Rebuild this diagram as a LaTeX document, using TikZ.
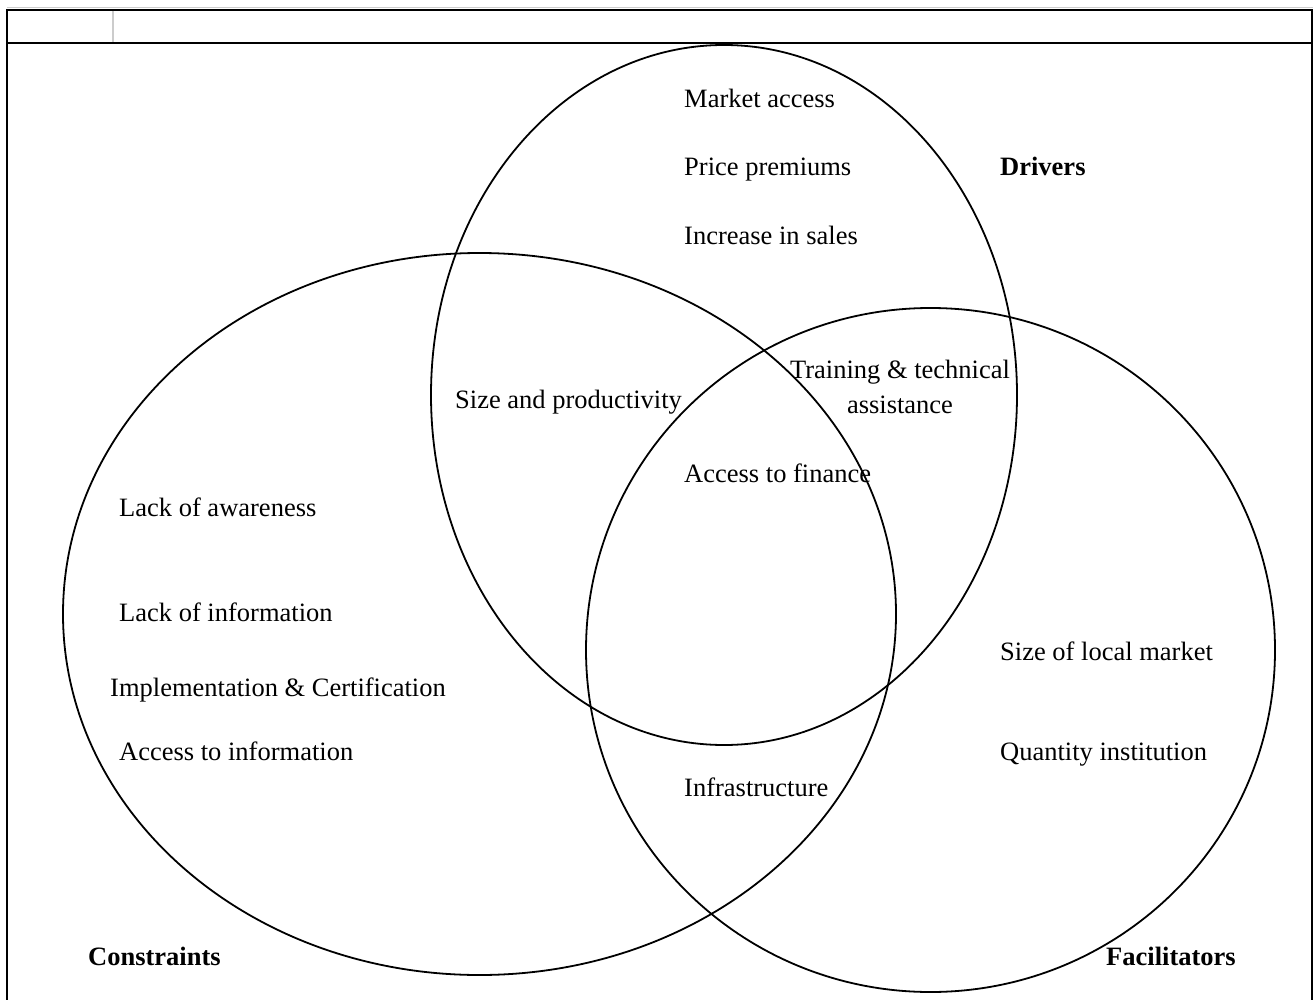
\documentclass[tikz,border=0pt]{standalone}
\usepackage{fontspec}
\setmainfont{Liberation Serif}
\usetikzlibrary{shapes.geometric}
\begin{document}
\begin{tikzpicture}[x=1pt,y=-1pt,
  lbl/.style={anchor=west,inner sep=0pt,text height=0.68em,text depth=0pt,
    font=\fontsize{26.5}{31}\selectfont},
  ttl/.style={lbl,font=\fontsize{26.5}{31}\selectfont\bfseries},
  setring/.style={draw=black,line width=1.8pt,ellipse,inner sep=0pt,outer sep=0pt}]
\useasboundingbox (0,0) rectangle (1316,1000);
% frame of the table cell
\draw[gray!40,line width=1pt] (7,8) -- (1313,8);
\draw[line width=2pt] (7,1004) -- (7,10) -- (1312,10) -- (1312,1004);
\draw[line width=2pt] (7,43) -- (1312,43);
\draw[gray!40,line width=1.5pt] (113,11) -- (113,42);
% the three sets
\node[setring,minimum width=586pt,minimum height=700pt] (drivers) at (724,395) {};
\node[setring,minimum width=833pt,minimum height=722pt] (constraints) at (479.5,614) {};
\node[setring,minimum width=689pt,minimum height=684pt] (facilitators) at (930.5,650) {};
% drivers
\node[lbl] (ma) at (684,104) {Market access};
\node[lbl] (pp) at (684,172) {Price premiums};
\node[lbl] (is) at (684,241) {Increase in sales};
\node[ttl] (dr) at (1000,172) {Drivers};
% overlaps
\node[align=center,inner sep=0pt,anchor=north,
  font=\fontsize{26.5}{35}\selectfont] (tt) at (900,360) {Training \& technical\\assistance};
\node[lbl] (sp) at (455,405) {Size and productivity};
\node[lbl] (af) at (684,479) {Access to finance};
\node[lbl] (inf) at (684,793) {Infrastructure};
% constraints
\node[lbl] (la) at (119,513) {Lack of awareness};
\node[lbl] (li) at (119,618) {Lack of information};
\node[lbl] (ic) at (110,693) {Implementation \& Certification};
\node[lbl] (ai) at (119,757) {Access to information};
\node[ttl] (co) at (88,962) {Constraints};
% facilitators
\node[lbl] (sl) at (1000,657) {Size of local market};
\node[lbl] (qi) at (1000,757) {Quantity institution};
\node[ttl] (fa) at (1106,962) {Facilitators};
\end{tikzpicture}
\end{document}
